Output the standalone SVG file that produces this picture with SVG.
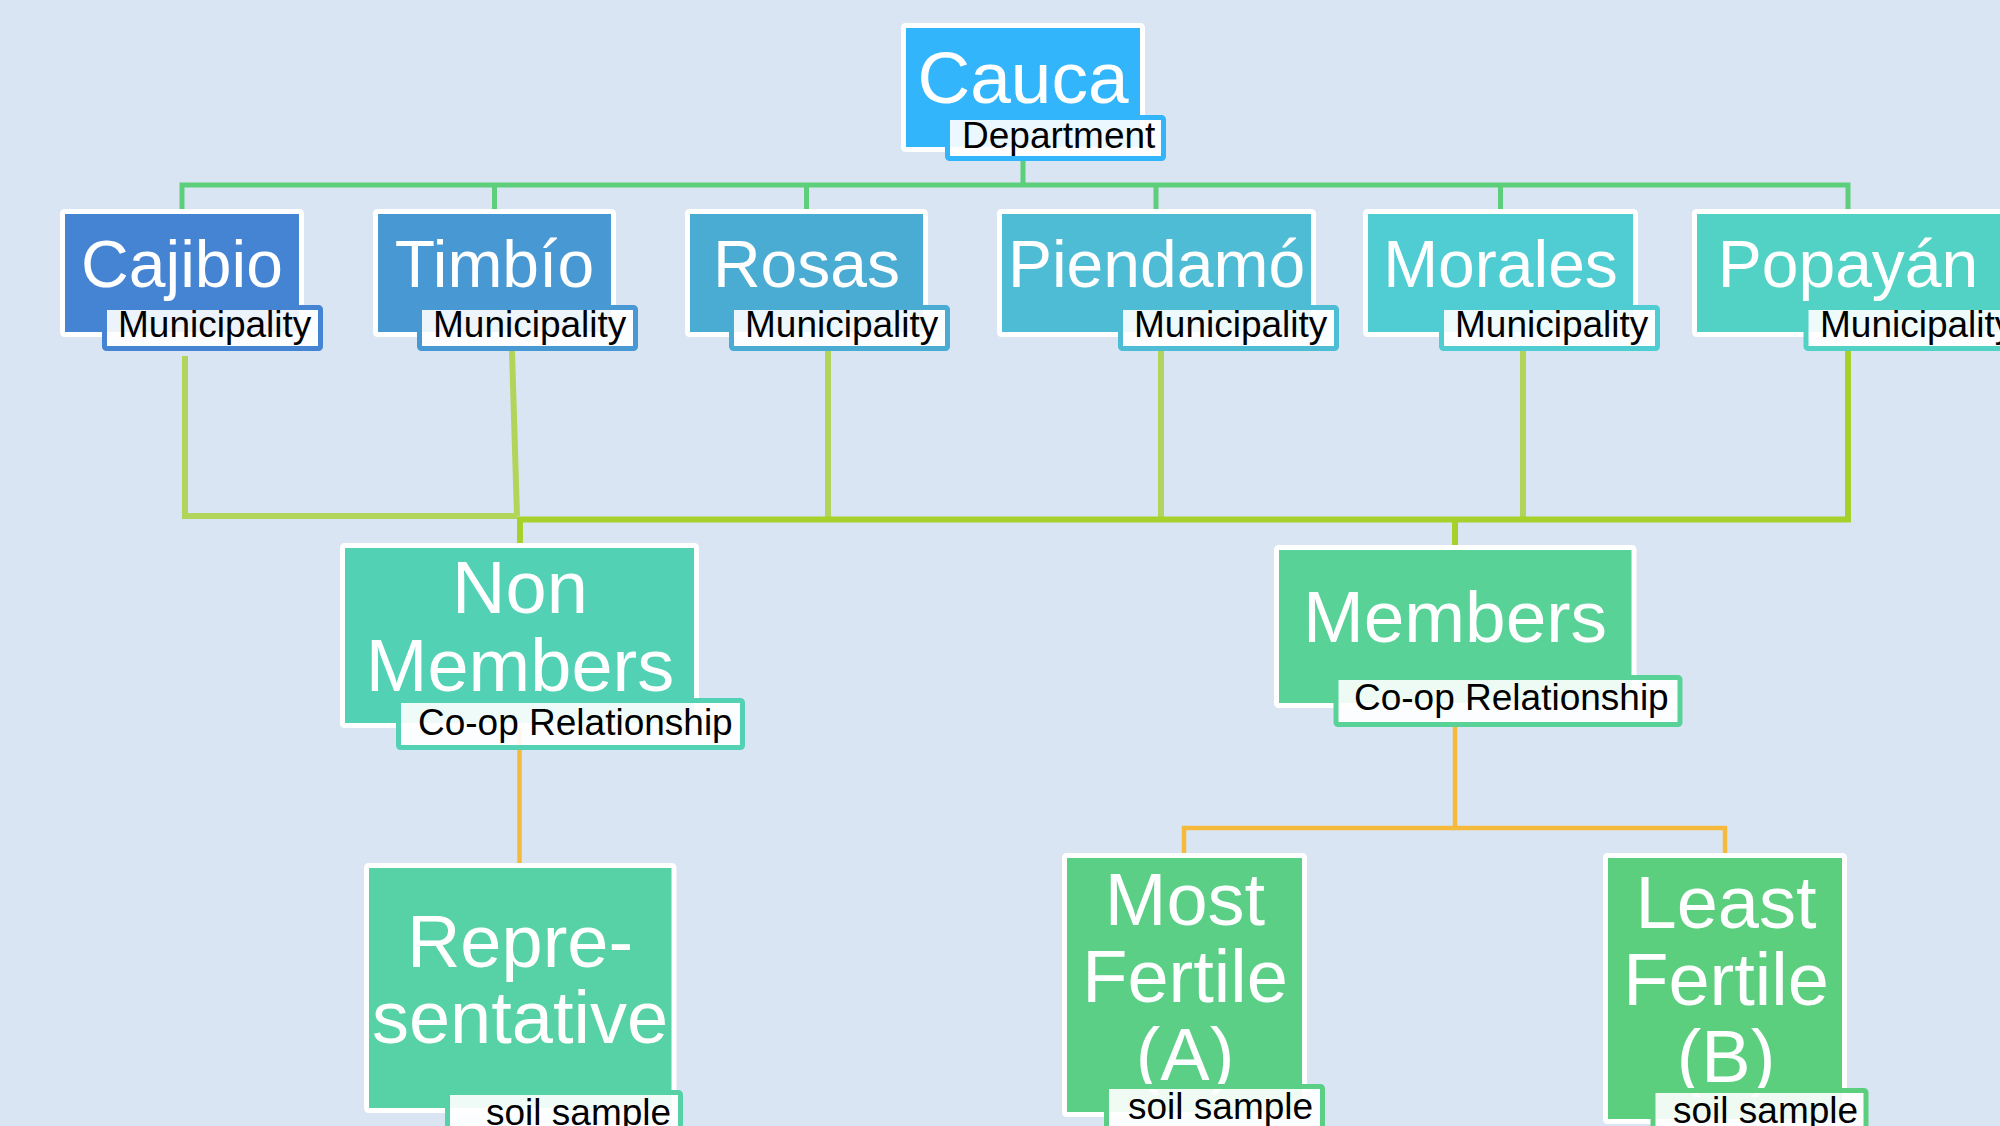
<svg xmlns="http://www.w3.org/2000/svg" width="2000" height="1126" viewBox="0 0 2000 1126">
<style>
.bg{fill:#DAE5F4}
.box{stroke:#FFFFFF;stroke-width:5}
.lab{fill:#FFFFFF;fill-opacity:0.9;stroke-width:5}
.big{font-family:"Liberation Sans",Arial,sans-serif;fill:#FFFFFF;text-anchor:middle}
.sm{font-family:"Liberation Sans",Arial,sans-serif;fill:#000000;font-size:37px}
.top{fill:none;stroke:#5DCF7A;stroke-width:5}
.lime{fill:none;stroke:#B1D55A;stroke-width:6}
.limed{fill:none;stroke:#A6D12A;stroke-width:6}
.org{fill:none;stroke:#F5BA3C;stroke-width:4.5}
</style>
<rect class="bg" x="0" y="0" width="2000" height="1126"/>
<g id="connectors">
  <path class="top" d="M1023 161V185M182 210V185H1848V210M494.5 185V210M806.5 185V210M1156 185V210M1500.5 185V210"/>
  <path class="lime" d="M185 356V516H517M512 351L517 516M828 350V519M1161 350V519M1523 350V519"/>
  <path class="limed" d="M517 519.5H1848V350M520 519V543M1455 519V545"/>
  <path class="org" d="M519.5 727V863M1455 727V828M1184 853V828H1725V853"/>
</g>
<g id="cauca">
  <rect class="box" x="903.5" y="25.5" width="239" height="124" rx="2" fill="#33B5FC"/>
  <text class="big" x="1023" y="103" font-size="73">Cauca</text>
  <rect class="lab" x="947.5" y="117.5" width="216" height="41" rx="2" stroke="#33B5FC"/>
  <text class="sm" x="962" y="148">Department</text>
</g>
<g id="cajibio">
  <rect class="box" x="62.5" y="211.5" width="239" height="123" rx="2" fill="#4584D3"/>
  <text class="big" x="182" y="287" font-size="66">Cajibio</text>
  <rect class="lab" x="104.5" y="307.5" width="216" height="41" rx="2" stroke="#4584D3"/>
  <text class="sm" x="118" y="337">Municipality</text>
</g>
<g id="timbio">
  <rect class="box" x="375.5" y="211.5" width="238" height="123" rx="2" fill="#4898D3"/>
  <text class="big" x="494.5" y="287" font-size="66">Timbío</text>
  <rect class="lab" x="419.5" y="307.5" width="216" height="41" rx="2" stroke="#4898D3"/>
  <text class="sm" x="433" y="337">Municipality</text>
</g>
<g id="rosas">
  <rect class="box" x="687.5" y="211.5" width="238" height="123" rx="2" fill="#4AABD3"/>
  <text class="big" x="806.5" y="287" font-size="66">Rosas</text>
  <rect class="lab" x="731.5" y="307.5" width="216" height="41" rx="2" stroke="#4AABD3"/>
  <text class="sm" x="745" y="337">Municipality</text>
</g>
<g id="piendamo">
  <rect class="box" x="999.5" y="211.5" width="314" height="123" rx="2" fill="#4DBCD4"/>
  <text class="big" x="1156.5" y="287" font-size="66">Piendamó</text>
  <rect class="lab" x="1120.5" y="307.5" width="216" height="41" rx="2" stroke="#4DBCD4"/>
  <text class="sm" x="1134" y="337">Municipality</text>
</g>
<g id="morales">
  <rect class="box" x="1365.5" y="211.5" width="270" height="123" rx="2" fill="#50CDD3"/>
  <text class="big" x="1500.5" y="287" font-size="66">Morales</text>
  <rect class="lab" x="1441.5" y="307.5" width="216" height="41" rx="2" stroke="#50CDD3"/>
  <text class="sm" x="1455" y="337">Municipality</text>
</g>
<g id="popayan">
  <rect class="box" x="1694.5" y="211.5" width="308" height="123" rx="2" fill="#52D2C5"/>
  <text class="big" x="1848" y="287" font-size="66">Popayán</text>
  <rect class="lab" x="1806" y="307.5" width="216" height="41" rx="2" stroke="#52D2C5"/>
  <text class="sm" x="1820" y="337">Municipality</text>
</g>
<g id="nonmembers">
  <rect class="box" x="342.5" y="545.5" width="354" height="180" rx="2" fill="#53D1B5"/>
  <text class="big" x="520" y="613" font-size="74">Non</text>
  <text class="big" x="520" y="691" font-size="74">Members</text>
  <rect class="lab" x="398.5" y="700.5" width="344" height="47" rx="2" stroke="#53D1B5"/>
  <text class="sm" x="418" y="735">Co-op Relationship</text>
</g>
<g id="members">
  <rect class="box" x="1276.5" y="547.5" width="357.5" height="158" rx="2" fill="#58D296"/>
  <text class="big" x="1455" y="642" font-size="73">Members</text>
  <rect class="lab" x="1336" y="677.5" width="344" height="47" rx="2" stroke="#58D296"/>
  <text class="sm" x="1354" y="710">Co-op Relationship</text>
</g>
<g id="representative">
  <rect class="box" x="366.5" y="865.5" width="307.5" height="245" rx="2" fill="#57D1A6"/>
  <text class="big" x="520" y="967" font-size="74">Repre-</text>
  <text class="big" x="520" y="1043" font-size="74">sentative</text>
  <rect class="lab" x="447.5" y="1092.5" width="233" height="47" rx="2" stroke="#57D1A6"/>
  <text class="sm" x="486" y="1125">soil sample</text>
</g>
<g id="mostfertile">
  <rect class="box" x="1064.5" y="855.5" width="240" height="259" rx="2" fill="#5BCF85"/>
  <text class="big" x="1185" y="925" font-size="74">Most</text>
  <text class="big" x="1185" y="1002" font-size="74">Fertile</text>
  <text class="big" x="1185" y="1080" font-size="74">(A)</text>
  <rect class="lab" x="1106.5" y="1086.5" width="216" height="47" rx="2" stroke="#5BCF85"/>
  <text class="sm" x="1128" y="1119">soil sample</text>
</g>
<g id="leastfertile">
  <rect class="box" x="1605.5" y="855.5" width="239" height="266" rx="2" fill="#5CCF7E"/>
  <text class="big" x="1726" y="928" font-size="74">Least</text>
  <text class="big" x="1726" y="1005" font-size="74">Fertile</text>
  <text class="big" x="1726" y="1082" font-size="74">(B)</text>
  <rect class="lab" x="1653" y="1090.5" width="213" height="47" rx="2" stroke="#5CCF7E"/>
  <text class="sm" x="1673" y="1123">soil sample</text>
</g>
</svg>
